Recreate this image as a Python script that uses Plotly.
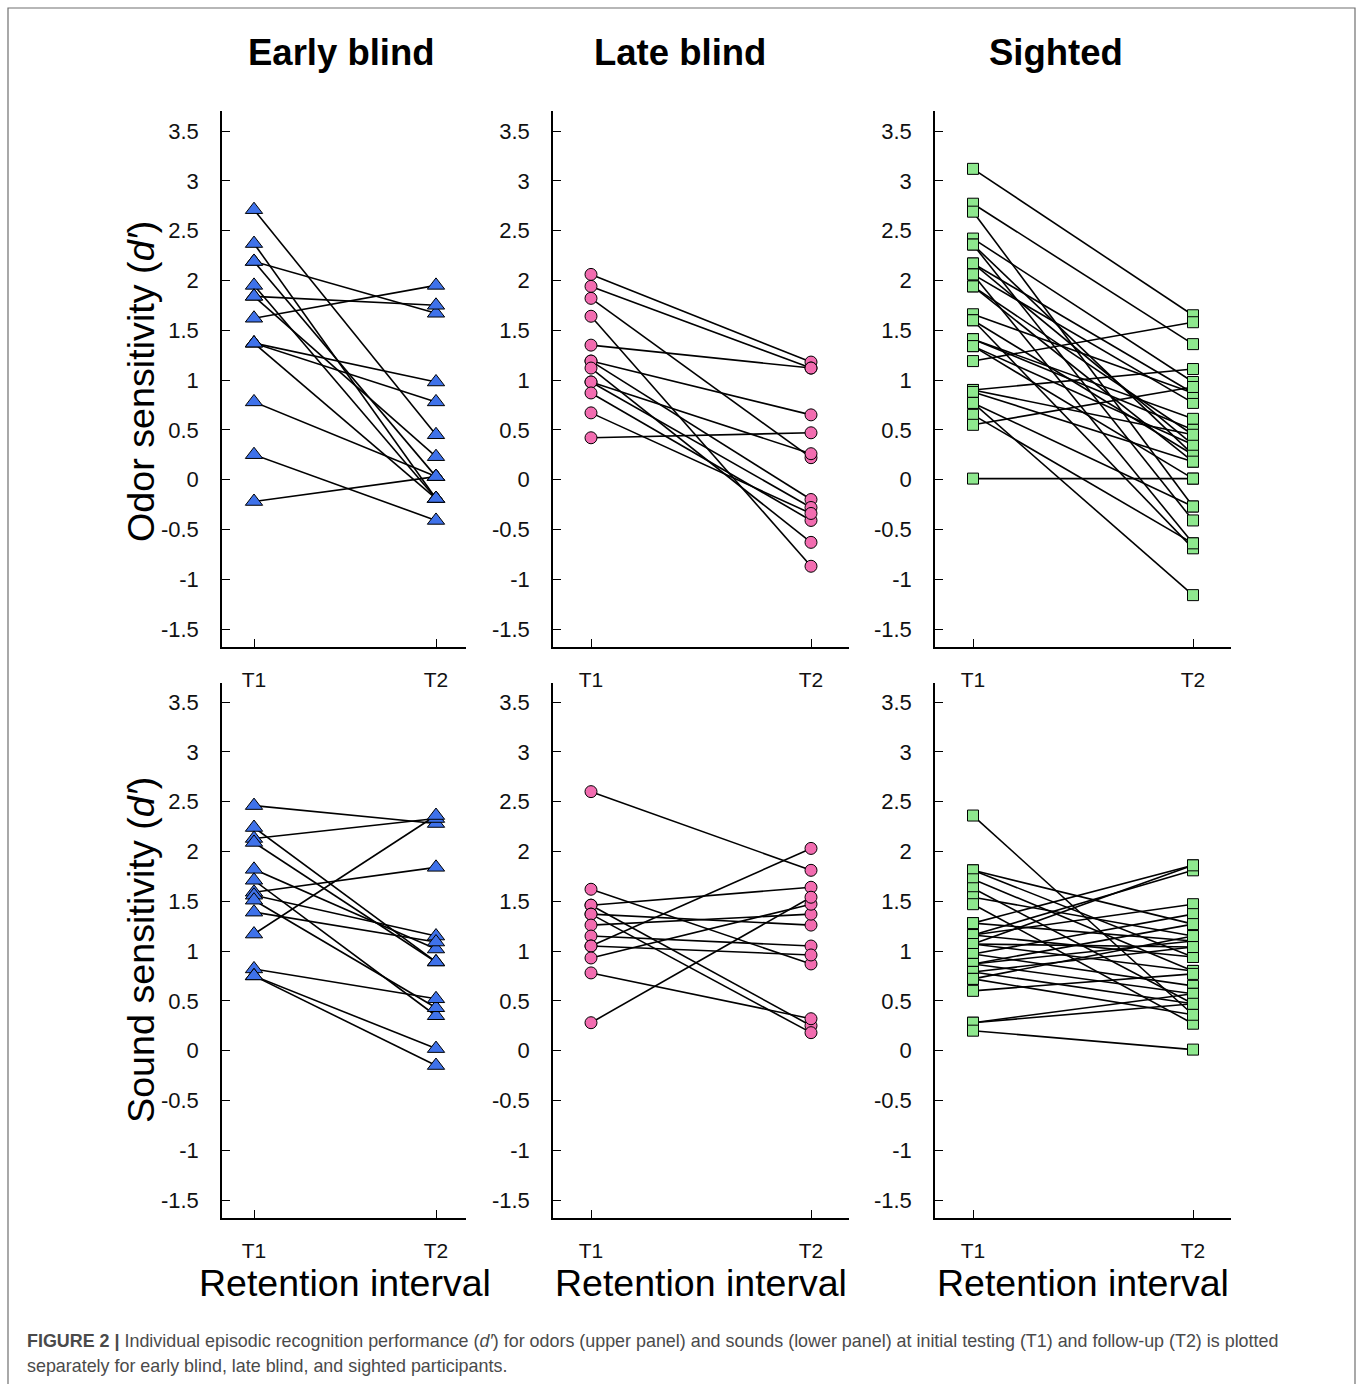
import plotly.graph_objects as go

W, H = 1358, 1384

# ---------------- data ----------------
times = ["T1", "T2"]
groups = ["Early blind", "Late blind", "Sighted"]
y_ticks = [3.5, 3, 2.5, 2, 1.5, 1, 0.5, 0, -0.5, -1, -1.5]
y_tick_labels = ["3.5", "3", "2.5", "2", "1.5", "1", "0.5", "0", "-0.5", "-1", "-1.5"]

# Early blind - odor
eb_odor_t1 = [2.71, 2.37, 2.19, 2.19, 1.95, 1.84, 1.84, 1.62, 1.37, 1.37, 1.37, 0.78, 0.25, -0.22]
eb_odor_t2 = [0.45, -0.19, 1.67, 0.03, -0.19, 1.75, 0.23, 1.95, 0.98, 0.78, -0.19, 0.03, -0.41, 0.03]

# Late blind - odor
lb_odor_t1 = [2.06, 1.94, 1.82, 1.64, 1.35, 1.19, 1.19, 1.12, 0.98, 0.98, 0.87, 0.67, 0.42]
lb_odor_t2 = [1.18, 1.12, 0.22, -0.87, 1.12, 0.65, -0.20, -0.63, 0.26, -0.28, -0.41, -0.34, 0.47]

# Sighted - odor
s_odor_t1 = [3.12, 2.77, 2.69, 2.42, 2.36, 2.36, 2.17, 2.17, 2.06, 2.06, 1.94, 1.94, 1.66, 1.60,
             1.60, 1.41, 1.41, 1.34, 1.34, 1.19, 0.90, 0.90, 0.88, 0.77, 0.77, 0.65, 0.55, 0.01]
s_odor_t2 = [1.65, 1.36, -0.27, 0.98, -0.41, 0.25, 0.87, 0.35, 0.77, -0.64, 0.45, 0.18, 0.87, 0.25,
             -0.69, 0.61, 0.50, 0.35, 0.01, 1.58, 1.11, 0.45, 0.18, -1.16, -0.27, -0.64, 0.93, 0.01]

# Early blind - sound
eb_sound_t1 = [2.46, 2.24, 2.13, 2.09, 1.82, 1.71, 1.59, 1.56, 1.51, 1.39, 1.17, 0.82, 0.75, 0.75]
eb_sound_t2 = [2.28, 0.89, 2.33, 0.89, 1.02, 0.35, 1.84, 1.15, 0.43, 1.09, 2.36, 0.52, 0.02, -0.15]

# Late blind - sound
lb_sound_t1 = [2.60, 1.62, 1.46, 1.46, 1.37, 1.37, 1.26, 1.15, 1.05, 1.05, 0.93, 0.78, 0.28]
lb_sound_t2 = [1.81, 0.87, 1.64, 0.25, 1.26, 0.18, 1.37, 1.05, 2.03, 0.96, 1.47, 0.32, 1.54]

# Sighted - sound
s_sound_t1 = [2.36, 1.81, 1.81, 1.72, 1.63, 1.54, 1.47, 1.28, 1.28, 1.16, 1.16, 1.16, 1.07, 1.07,
              1.07, 0.97, 0.97, 0.87, 0.87, 0.87, 0.79, 0.79, 0.72, 0.72, 0.60, 0.28, 0.28, 0.20]
s_sound_t2 = [0.36, 1.27, 0.94, 0.80, 0.47, 1.15, 0.27, 1.86, 1.10, 1.81, 1.47, 0.94, 1.04, 0.80,
              1.86, 1.37, 0.65, 1.27, 0.57, 1.10, 1.04, 0.47, 1.15, 0.36, 0.77, 0.57, 0.47, 0.01]

# ---------------- styles ----------------
FONT = "Arial, 'Liberation Sans', Helvetica, sans-serif"
group_style = [
    dict(symbol="triangle-up", color="#3f72ea", size=15),
    dict(symbol="circle", color="#f26cb0", size=12),
    dict(symbol="square", color="#8ee88e", size=11),
]
panels = [
    (eb_odor_t1, eb_odor_t2, 0, 0), (lb_odor_t1, lb_odor_t2, 1, 0), (s_odor_t1, s_odor_t2, 2, 0),
    (eb_sound_t1, eb_sound_t2, 0, 1), (lb_sound_t1, lb_sound_t2, 1, 1), (s_sound_t1, s_sound_t2, 2, 1),
]
# pixel geometry: (left, right, T1 px, T2 px)
col_px = [(222, 466, 254, 436), (553, 849, 591, 811), (935, 1231, 973, 1193)]
# (top, bottom, px of 3.5, px of -1.5)
row_px = [(111, 647, 131, 629), (683, 1218, 702, 1200)]

fig = go.Figure()
layout_axes = {}

for i, (t1, t2, c, r) in enumerate(panels, start=1):
    st = group_style[c]
    xs, ys = [], []
    for a, b in zip(t1, t2):
        xs += [times[0], times[1], None]
        ys += [a, b, None]
    xa, ya = f"x{i}", f"y{i}"
    fig.add_trace(go.Scatter(x=xs, y=ys, mode="lines", line=dict(color="black", width=1.6),
                             xaxis=xa, yaxis=ya, hoverinfo="skip", showlegend=False,
                             connectgaps=False))
    fig.add_trace(go.Scatter(x=[times[0]] * len(t1) + [times[1]] * len(t2), y=list(t1) + list(t2),
                             mode="markers", xaxis=xa, yaxis=ya, showlegend=False,
                             marker=dict(symbol=st["symbol"], color=st["color"], size=st["size"],
                                         line=dict(color="black", width=1))))
    l, rt, p1, p2 = col_px[c]
    unit_x = p2 - p1
    xr = [-(p1 - l) / unit_x, 1 + (rt - p2) / unit_x]
    top, bot, p35, pm15 = row_px[r]
    unit_y = (pm15 - p35) / 5.0
    yr = [-1.5 - (bot - pm15) / unit_y, 3.5 + (p35 - top) / unit_y]
    sfx = "" if i == 1 else str(i)
    layout_axes[f"xaxis{sfx}"] = dict(
        domain=[l / W, rt / W], range=xr, type="category", categoryorder="array",
        categoryarray=times, anchor=ya, showline=True, linecolor="black", linewidth=1.5,
        ticks="inside", ticklen=8, tickwidth=1.3, tickcolor="black", showgrid=False,
        zeroline=False, ticklabelstandoff=13,
        tickfont=dict(family=FONT, size=21, color="#111"), fixedrange=True)
    layout_axes[f"yaxis{sfx}"] = dict(
        domain=[1 - bot / H, 1 - top / H], range=yr, anchor=xa, showline=True,
        linecolor="black", linewidth=1.5, ticks="inside", ticklen=8, tickwidth=1.3,
        tickcolor="black", tickvals=y_ticks, ticktext=y_tick_labels, showgrid=False,
        zeroline=False, ticklabelstandoff=17,
        tickfont=dict(family=FONT, size=22, color="#111"), fixedrange=True)

annotations = []
title_px = [341, 680, 1056]
for g, xp in zip(groups, title_px):
    annotations.append(dict(text=f"<b>{g}</b>", x=xp / W, y=1 - 52 / H, xref="paper", yref="paper",
                            xanchor="center", yanchor="middle", showarrow=False,
                            font=dict(family=FONT, size=36.5, color="black")))
xt_px = [345, 701, 1083]
for xp in xt_px:
    annotations.append(dict(text="Retention interval", x=xp / W, y=1 - 1283 / H, xref="paper",
                            yref="paper", xanchor="center", yanchor="middle", showarrow=False,
                            borderpad=0,
                            font=dict(family=FONT, size=37.5, color="black")))
for txt, yp in [("Odor sensitivity (<i>d′</i>)", 382), ("Sound sensitivity (<i>d′</i>)", 950)]:
    annotations.append(dict(text=txt, x=141 / W, y=1 - yp / H, xref="paper", yref="paper",
                            xanchor="center", yanchor="middle", textangle=-90, showarrow=False,
                            font=dict(family=FONT, size=37.7, color="black")))
cap1 = ("<b>FIGURE 2 |</b> Individual episodic recognition performance (<i>d′</i>) for odors "
        "(upper panel) and sounds (lower panel) at initial testing (T1) and follow-up (T2) is plotted")
cap2 = "separately for early blind, late blind, and sighted participants."
for txt, yp in [(cap1, 1341), (cap2, 1366)]:
    annotations.append(dict(text=txt, x=25 / W, y=1 - yp / H, xref="paper", yref="paper",
                            xanchor="left", yanchor="middle", showarrow=False,
                            font=dict(family=FONT, size=17.9, color="#4a4a4a")))

fig.update_layout(
    width=W, height=H, margin=dict(l=0, r=0, t=0, b=0),
    paper_bgcolor="white", plot_bgcolor="white", showlegend=False,
    annotations=annotations,
    shapes=[dict(type="rect", xref="paper", yref="paper", x0=8 / W, x1=1355 / W,
                 y0=-0.05, y1=1 - 8 / H, line=dict(color="#707070", width=1.2))],
    **layout_axes,
)

fig.write_html("out.html", config={"displayModeBar": False},
               post_script="document.body.style.margin='0';document.body.style.padding='0';")
